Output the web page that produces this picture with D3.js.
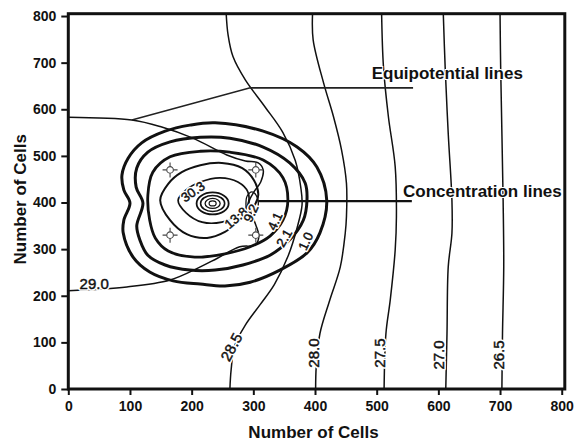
<!DOCTYPE html>
<html><head><meta charset="utf-8">
<script src="https://cdn.jsdelivr.net/npm/d3@7"></script>
<style>
html,body{margin:0;padding:0;background:#fff;}
svg{display:block;}
text{font-family:"Liberation Sans",Arial,Helvetica,sans-serif;}
</style></head>
<body>
<svg id="chart" width="575" height="441"></svg>
<script>
// ---------- data (values in axis units) ----------
const xTicks = [0,100,200,300,400,500,600,700,800];
const yTicks = [0,100,200,300,400,500,600,700,800];

// equipotential lines (thin)
const equip290 = [[0,583],[103,577],[149,563],[202,538],[257,502],[287,489],[308,485],[316,470],[312,444],[301,423],[293,401],[296,378],[304,352],[309,328],[303,309],[278,305],[241,280],[214,262],[165,234],[95,219],[0,211]];
const equip285 = [[256,805],[259,760],[267,713],[287,663],[319,605],[348,550],[368,490],[377,432],[379,395],[371,346],[356,284],[334,224],[311,181],[287,137],[270,94],[264,41],[262,0]];
const equip280 = [[396,805],[397,749],[414,656],[430,584],[443,513],[451,441],[451,370],[449,334],[441,262],[424,191],[408,119],[402,48],[401,0]];
const equip275 = [[508,805],[511,691],[519,584],[530,477],[532,370],[530,298],[522,191],[515,119],[512,0]];
const equip270 = [[608,805],[611,691],[616,548],[622,405],[622,334],[616,262],[614,119],[612,0]];
const equip265 = [[700,805],[701,691],[705,405],[706,262],[704,119],[703,0]];
const wellLoop = [[298,423],[306,412],[308,395],[304,378],[298,371],[290,380],[288,397],[290,414]];

// concentration lines (closed)
const conc10 = [[238,571],[316,553],[371,519],[403,476],[419,405],[408,335],[387,292],[343,255],[295,229],[254,221],[214,225],[170,232],[132,251],[105,283],[89,335],[90,362],[100,399],[90,427],[87,459],[97,495],[119,528],[157,553],[197,566]];
const conc21 = [[214,540],[262,538],[316,519],[359,485],[384,442],[387,405],[381,362],[359,320],[327,287],[283,266],[238,255],[197,255],[157,266],[129,287],[116,320],[111,350],[121,399],[110,433],[111,474],[129,508],[165,530]];
const conc41 = [[262,508],[316,491],[348,453],[356,405],[348,362],[327,328],[295,305],[254,290],[205,283],[162,296],[141,324],[132,362],[129,416],[137,465],[165,498],[214,510]];
const conc138 = [[149,405],[162,440],[184,465],[214,480],[249,485],[282,474],[301,448],[308,416],[300,390],[278,362],[254,337],[225,324],[192,332],[165,362]];
const conc303 = [[178,405],[191,427],[214,444],[246,453],[275,444],[291,423],[291,395],[275,373],[249,358],[217,358],[191,378]];
const ringCenter = [234,398];
const ringRx = [26,19.5,12.2,5.7];
const ringRy = [23.6,17.2,10.7,5.4];

// wells
const wells = [[165,470],[304,470],[165,330],[304,330]];

// contour labels
const equipLabels = ["29.0","28.5","28.0","27.5","27.0","26.5"];
const equipLabelPos = [[42,227],[264,90],[397,77],[504,77],[600,73],[697,73]];
const equipLabelAngle = [0,-62,-90,-90,-90,-90];
const concLabels = ["30.3","13.8","9.2","4.1","2.1","1.0"];
const concLabelPos = [[202,423],[272,367],[296,377],[335,360],[350,324],[385,317]];
const concLabelAngle = [-35,-40,-65,-65,-60,-65];

// annotation pointers
const equipPointer = [[103,577],[295,646],[559,646]];
const concPointer = [[308,403],[557,403]];
const annotations = ["Equipotential lines","Concentration lines"];
const annotationAnchor = [[492,664],[800,412]];
const axisTitle = "Number of Cells";

// ---------- drawing ----------
const svg = d3.select("#chart");
const x = d3.scaleLinear().domain([0,805]).range([68.3,564.8]);
const y = d3.scaleLinear().domain([0,805]).range([389,13.7]);
const ink = "#111";

const openLine = d3.line().x(d=>x(d[0])).y(d=>y(d[1])).curve(d3.curveCatmullRom.alpha(0.5));
const closedLine = d3.line().x(d=>x(d[0])).y(d=>y(d[1])).curve(d3.curveCatmullRomClosed.alpha(0.5));
const straight = d3.line().x(d=>x(d[0])).y(d=>y(d[1]));

svg.append("clipPath").attr("id","clip").append("rect")
  .attr("x",x(0)).attr("y",y(805)).attr("width",x(805)-x(0)).attr("height",y(0)-y(805));
const plot = svg.append("g").attr("clip-path","url(#clip)");

// equipotential lines
[equip290,equip285,equip280,equip275,equip270,equip265].forEach(d=>{
  plot.append("path").attr("d",openLine(d)).attr("fill","none").attr("stroke",ink).attr("stroke-width",1.5);
});
plot.append("path").attr("d",closedLine(wellLoop)).attr("fill","none").attr("stroke",ink).attr("stroke-width",1.3);

// concentration loops
const concSets = [[conc10,3],[conc21,3],[conc41,2.8],[conc138,2],[conc303,1.7]];
concSets.forEach(([d,w])=>{
  plot.append("path").attr("d",closedLine(d)).attr("fill","none").attr("stroke",ink).attr("stroke-width",w);
});
const ringW = [1.8,1.6,1.3,1.2];
ringRx.forEach((rx,i)=>{
  plot.append("ellipse")
    .attr("cx",x(ringCenter[0])).attr("cy",y(ringCenter[1]))
    .attr("rx",x(ringCenter[0]+rx)-x(ringCenter[0]))
    .attr("ry",y(ringCenter[1])-y(ringCenter[1]+ringRy[i]))
    .attr("fill","none").attr("stroke",ink).attr("stroke-width",ringW[i]);
});

// pointers
plot.append("path").attr("d",straight(equipPointer)).attr("fill","none").attr("stroke","#222").attr("stroke-width",1.6);
plot.append("path").attr("d",straight(concPointer)).attr("fill","none").attr("stroke",ink).attr("stroke-width",2.2);

// wells
wells.forEach(w=>{
  const g = plot.append("g").attr("transform",`translate(${x(w[0])},${y(w[1])})`);
  [[1,0],[-1,0],[0,1],[0,-1]].forEach(([a,b])=>{
    g.append("line").attr("x1",a*3.3).attr("y1",b*3.3).attr("x2",a*7.5).attr("y2",b*7.5)
      .attr("stroke","#444").attr("stroke-width",1.1);
  });
  g.append("circle").attr("r",3.3).attr("fill","#fff").attr("stroke","#444").attr("stroke-width",1.1);
});

// contour labels
function addLabels(txts,pos,ang,size){
  txts.forEach((t,i)=>{
    const tr = `translate(${x(pos[i][0])},${y(pos[i][1])}) rotate(${ang[i]})`;
    svg.append("text").attr("transform",tr)
      .attr("text-anchor","middle").attr("dominant-baseline","central")
      .attr("font-size",size).attr("fill","#fff")
      .attr("stroke","#fff").attr("stroke-width",3.5).attr("stroke-linejoin","round")
      .text(t);
    svg.append("text").attr("transform",tr)
      .attr("text-anchor","middle").attr("dominant-baseline","central")
      .attr("font-size",size).attr("fill",ink)
      .attr("stroke",ink).attr("stroke-width",0.45)
      .text(t);
  });
}
addLabels(equipLabels,equipLabelPos,equipLabelAngle,15);
addLabels(concLabels,concLabelPos,concLabelAngle,13);

// annotation text
svg.append("text").attr("x",x(annotationAnchor[0][0])).attr("y",y(annotationAnchor[0][1])).attr("text-anchor","start")
  .attr("font-size",17).attr("font-weight","bold").attr("fill",ink)
  .attr("stroke","#fff").attr("stroke-width",2).attr("paint-order","stroke")
  .text(annotations[0]);
svg.append("text").attr("x",x(annotationAnchor[1][0])).attr("y",y(annotationAnchor[1][1])).attr("text-anchor","end")
  .attr("font-size",17).attr("font-weight","bold").attr("fill",ink)
  .attr("stroke","#fff").attr("stroke-width",2).attr("paint-order","stroke")
  .text(annotations[1]);

// axes
const xAxis = svg.append("g").attr("transform",`translate(0,${y(0)})`)
  .call(d3.axisBottom(x).tickValues(xTicks).tickSize(6).tickPadding(6));
const yAxis = svg.append("g").attr("transform",`translate(${x(0)},0)`)
  .call(d3.axisLeft(y).tickValues(yTicks).tickSize(7).tickPadding(5));
[xAxis,yAxis].forEach(a=>{
  a.select(".domain").remove();
  a.selectAll(".tick line").attr("stroke",ink).attr("stroke-width",2);
  a.selectAll(".tick text").attr("font-size",14).attr("font-weight","bold")
    .attr("fill",ink).attr("font-family","'Liberation Sans',Arial,sans-serif");
});

// frame
svg.append("rect").attr("x",x(0)).attr("y",y(805)).attr("width",x(805)-x(0)).attr("height",y(0)-y(805))
  .attr("fill","none").attr("stroke",ink).attr("stroke-width",3);

// axis titles
svg.append("text").attr("x",(x(0)+x(805))/2-3).attr("y",438).attr("text-anchor","middle")
  .attr("font-size",17).attr("font-weight","bold").attr("fill",ink).text(axisTitle);
svg.append("text").attr("transform",`translate(26,${(y(0)+y(805))/2-2}) rotate(-90)`).attr("text-anchor","middle")
  .attr("font-size",17).attr("font-weight","bold").attr("fill",ink).text(axisTitle);
</script>
</body></html>
